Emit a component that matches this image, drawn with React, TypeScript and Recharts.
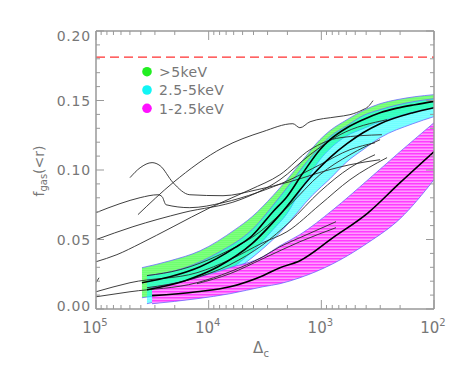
import React from 'react';
import { ComposedChart, Area, Line, XAxis, YAxis, Legend } from 'recharts';

// ---------- axis ticks ----------
const xTicks = [100, 200, 300, 400, 500, 600, 700, 800, 900, 1000, 2000, 3000, 4000, 5000, 6000, 7000, 8000, 9000, 10000, 20000, 30000, 40000, 50000, 60000, 70000, 80000, 90000, 100000];
const xMajor = [100000, 10000, 1000, 100];
const xExponents = ['5', '4', '3', '2'];
const yTicks = [0, 0.01, 0.02, 0.03, 0.04, 0.05, 0.06, 0.07, 0.08, 0.09, 0.1, 0.11, 0.12, 0.13, 0.14, 0.15, 0.16, 0.17, 0.18, 0.19, 0.2];
const yMajor = [0, 0.05, 0.1, 0.15, 0.2];
const yMajorLabels = ['0.00', '0.05', '0.10', '0.15', '0.20'];

// cosmic baryon fraction (dashed red line)
const baryonDelta = [100000, 100];
const baryonF = [0.1812, 0.1812];

// ---------- legend ----------
const legendLabels = ['>5keV', '2.5-5keV', '1-2.5keV'];
const legendColors = ['#22ee22', '#11f5f5', '#ff11ff'];

// ---------- bands (>5keV, 2.5-5keV, 1-2.5keV) ----------
const greenDelta = [39100, 22000, 11900, 5840, 4120, 2690, 2020, 1450, 1030, 838, 592, 427, 301, 213, 148, 100];
const greenHigh = [0.0297, 0.0347, 0.0419, 0.0571, 0.0664, 0.0815, 0.093, 0.1074, 0.1218, 0.1283, 0.1362, 0.1427, 0.1477, 0.1506, 0.1527, 0.1542];
const greenMid = [0.0189, 0.0232, 0.0304, 0.0441, 0.0527, 0.07, 0.0808, 0.0981, 0.1146, 0.1218, 0.1304, 0.1362, 0.1412, 0.1445, 0.147, 0.1494];
const greenLow = [0.0081, 0.0117, 0.0189, 0.0311, 0.0412, 0.0571, 0.0686, 0.0887, 0.1074, 0.1153, 0.1247, 0.1297, 0.1348, 0.1384, 0.142, 0.1448];

const cyanDelta = [35300, 16200, 8260, 4120, 2330, 1190, 838, 592, 427, 301, 154, 100];
const cyanHigh = [0.024, 0.0297, 0.0405, 0.0571, 0.0808, 0.111, 0.124, 0.1319, 0.1391, 0.1434, 0.1491, 0.1513];
const cyanMid = [0.0139, 0.0204, 0.0304, 0.047, 0.0679, 0.0966, 0.1089, 0.1189, 0.1268, 0.1333, 0.1412, 0.1448];
const cyanLow = [0.0038, 0.011, 0.0204, 0.0369, 0.0549, 0.0822, 0.0937, 0.106, 0.1146, 0.1232, 0.1333, 0.1384];

const magentaDelta = [31800, 12700, 6470, 3300, 2330, 1550, 788, 385, 200, 100];
const magentaHigh = [0.0153, 0.0225, 0.0297, 0.0376, 0.0455, 0.0535, 0.0714, 0.093, 0.1132, 0.134];
const magentaMid = [0.0096, 0.0124, 0.016, 0.024, 0.0297, 0.0347, 0.0513, 0.0692, 0.0909, 0.1132];
const magentaLow = [0.0038, 0.0074, 0.011, 0.016, 0.0182, 0.0225, 0.0326, 0.0477, 0.065, 0.093];

// ---------- individual cluster profiles ----------
const p1Delta = [100000, 61200, 40600, 28200, 25900, 23900, 14700, 7460, 3720, 1900, 1030, 557, 334];
const p1F = [0.0693, 0.0758, 0.0801, 0.0822, 0.0808, 0.075, 0.0729, 0.0765, 0.0837, 0.093, 0.1038, 0.1146, 0.1196];
const p2Delta = [49900, 40600, 31800, 27000, 20700, 14700, 7460, 3720, 1900, 838, 557, 301];
const p2F = [0.0945, 0.1016, 0.1053, 0.1031, 0.0909, 0.0822, 0.0815, 0.0858, 0.0916, 0.1003, 0.1038, 0.1074];
const p3Delta = [42400, 20700, 7460, 3300, 1790, 1550, 1260, 726, 557, 427, 385, 348];
const p3F = [0.0679, 0.0909, 0.1161, 0.1276, 0.1333, 0.1304, 0.1347, 0.1383, 0.1398, 0.1434, 0.1455, 0.1499];
const p4Delta = [100000, 47000, 16900, 5270, 2330, 1260, 683, 261];
const p4F = [0.0499, 0.0592, 0.0693, 0.0786, 0.093, 0.111, 0.1254, 0.1362];
const p5Delta = [100000, 65200, 40600, 20700, 9730, 4300, 2330, 1260, 683, 290];
const p5F = [0.034, 0.0391, 0.047, 0.0592, 0.0729, 0.0858, 0.0966, 0.1146, 0.1232, 0.1254];
const p6Delta = [100000, 49900, 12700, 6470, 3300, 2020, 1030, 557, 261];
const p6F = [0.0124, 0.0189, 0.0261, 0.0355, 0.0477, 0.0556, 0.075, 0.093, 0.1089];
const p7Delta = [100000, 49900, 12700, 6470, 3300, 2330, 1550, 1030, 741];
const p7F = [0.0088, 0.0124, 0.0189, 0.0268, 0.0376, 0.0448, 0.0513, 0.0577, 0.0628];
const p8Delta = [12700, 6470, 3300, 1550, 741];
const p8F = [0.0182, 0.0254, 0.0362, 0.0484, 0.0585];
const p9Delta = [35300, 17900, 7930, 3500, 1900, 1030, 557, 301];
const p9F = [0.024, 0.0283, 0.0391, 0.0556, 0.075, 0.0966, 0.111, 0.1218];
const p10Delta = [35300, 14700, 6470, 3300, 1900, 1030, 557, 334];
const p10F = [0.0153, 0.0211, 0.0319, 0.0463, 0.0628, 0.0844, 0.1016, 0.111];
const p11Delta = [100000, 94000];
const p11F = [0.0189, 0.0225];

const profiles = [
  [p1Delta, p1F], [p2Delta, p2F], [p3Delta, p3F], [p4Delta, p4F], [p5Delta, p5F], [p6Delta, p6F],
  [p7Delta, p7F], [p8Delta, p8F], [p9Delta, p9F], [p10Delta, p10F], [p11Delta, p11F],
];

const toPoints = (d: number[], f: number[]) => d.map((x, i) => ({ d: x, f: f[i] }));
const toRange = (d: number[], lo: number[], hi: number[]) => d.map((x, i) => ({ d: x, r: [lo[i], hi[i]] }));

const FONT = "'DejaVu Sans', sans-serif";
const TXT = '#777777';
const AX = '#999999';

const isMajorY = (v: number) => yMajor.findIndex((m) => Math.abs(m - v) < 1e-9);

const BottomTick = (props: any) => {
  const { x, y, payload } = props;
  const idx = xMajor.indexOf(payload.value);
  const len = idx >= 0 ? 9 : 4;
  return (
    <g>
      <line x1={x} y1={y} x2={x} y2={y - len} stroke={AX} strokeWidth={1} />
      {idx >= 0 && (
        <text x={x - 1} y={y + 24} textAnchor="middle" fill={TXT} fontSize={15} fontFamily={FONT}>
          10<tspan dy={-7} fontSize={10}>{xExponents[idx]}</tspan>
        </text>
      )}
    </g>
  );
};

const TopTick = (props: any) => {
  const { x, y, payload } = props;
  const len = xMajor.indexOf(payload.value) >= 0 ? 9 : 4;
  return <line x1={x} y1={y} x2={x} y2={y + len} stroke={AX} strokeWidth={1} />;
};

const LeftTick = (props: any) => {
  const { x, y, payload } = props;
  const v = payload.value;
  const idx = isMajorY(v);
  const len = idx >= 0 ? 8 : 4;
  const dy = Math.abs(v - 0.2) < 1e-9 ? 10 : Math.abs(v) < 1e-9 ? 2 : 5;
  return (
    <g>
      <line x1={x} y1={y} x2={x + len} y2={y} stroke={AX} strokeWidth={1} />
      {idx >= 0 && (
        <text x={x - 5} y={y + dy} textAnchor="end" fill={TXT} fontSize={14} fontFamily={FONT} letterSpacing={0.8}>
          {yMajorLabels[idx]}
        </text>
      )}
    </g>
  );
};

const RightTick = (props: any) => {
  const { x, y, payload } = props;
  const len = isMajorY(payload.value) >= 0 ? 8 : 4;
  return <line x1={x} y1={y} x2={x - len} y2={y} stroke={AX} strokeWidth={1} />;
};

const XLabel = (props: any) => {
  const vb = props.viewBox;
  return (
    <text x={vb.x + vb.width / 2 - 4} y={vb.y + 44} textAnchor="middle" fill={TXT} fontSize={15} fontFamily={FONT}>
      Δ<tspan dy={4} fontSize={10}>c</tspan>
    </text>
  );
};

const YLabel = () => (
  <text x={44} y={171} transform="rotate(-90, 44, 171)" textAnchor="middle" fill={TXT} fontSize={14} fontFamily={FONT}>
    f<tspan dy={3} fontSize={10}>gas</tspan><tspan dy={-3}>(&lt;r)</tspan>
  </text>
);

const LegendBox = () => (
  <svg width={130} height={62} style={{ display: 'block' }}>
    {legendLabels.map((lab, i) => (
      <g key={lab}>
        <circle cx={10} cy={11.7 + i * 18.3} r={4.8} fill={legendColors[i]} />
        <text x={22} y={17 + i * 18.3} fill={TXT} fontSize={14} fontFamily={FONT} letterSpacing={0.4}>
          {lab}
        </text>
      </g>
    ))}
  </svg>
);

export default function App() {
  const bandStroke = '#6b6bff';
  return (
    <div style={{ position: 'absolute', left: 0, top: 0, width: 463, height: 371, background: '#fff' }}>
      <ComposedChart width={463} height={371} margin={{ top: 0, right: 0, bottom: 0, left: 0 }}>
        <defs>
          <pattern id="hatchGreen" patternUnits="userSpaceOnUse" width={4} height={2}>
            <rect x={0} y={0} width={4} height={2} fill="#00ff00" fillOpacity={0.5} />
            <rect x={0} y={0} width={4} height={1} fill="#00ff00" fillOpacity={0.12} />
          </pattern>
          <pattern id="hatchCyan" patternUnits="userSpaceOnUse" width={4} height={2}>
            <rect x={0} y={0} width={4} height={2} fill="#00ffff" fillOpacity={0.5} />
            <rect x={0} y={1} width={4} height={1} fill="#00ffff" fillOpacity={0.12} />
          </pattern>
          <pattern id="hatchMagenta" patternUnits="userSpaceOnUse" width={4} height={3}>
            <rect x={0} y={0} width={4} height={3} fill="#ff9cff" />
            <rect x={0} y={0} width={4} height={1.5} fill="#ff3cff" />
          </pattern>
        </defs>
        <XAxis
          dataKey="d"
          type="number"
          scale="log"
          domain={[100, 100000]}
          allowDataOverflow
          reversed
          ticks={xTicks}
          interval={0}
          tick={<BottomTick />}
          tickLine={false}
          tickSize={0}
          tickMargin={0}
          height={62}
          axisLine={{ stroke: AX, strokeWidth: 1.5 }}
          label={<XLabel />}
        />
        <XAxis
          xAxisId="top"
          orientation="top"
          dataKey="d"
          type="number"
          scale="log"
          domain={[100, 100000]}
          allowDataOverflow
          reversed
          ticks={xTicks}
          interval={0}
          tick={<TopTick />}
          tickLine={false}
          tickSize={0}
          tickMargin={0}
          height={31}
          axisLine={{ stroke: AX, strokeWidth: 1.5 }}
        />
        <YAxis
          type="number"
          domain={[0, 0.2]}
          allowDataOverflow
          ticks={yTicks}
          interval={0}
          tick={<LeftTick />}
          tickLine={false}
          tickSize={0}
          tickMargin={0}
          width={96}
          axisLine={{ stroke: AX, strokeWidth: 1.5 }}
          label={<YLabel />}
        />
        <YAxis
          yAxisId="right"
          orientation="right"
          type="number"
          domain={[0, 0.2]}
          allowDataOverflow
          ticks={yTicks}
          interval={0}
          tick={<RightTick />}
          tickLine={false}
          tickSize={0}
          tickMargin={0}
          width={29}
          axisLine={{ stroke: AX, strokeWidth: 1.5 }}
        />
        <Area
          data={toRange(greenDelta, greenLow, greenHigh)}
          dataKey="r"
          type="monotone"
          fill="url(#hatchGreen)"
          fillOpacity={1}
          stroke={bandStroke}
          strokeWidth={0.8}
          isAnimationActive={false}
          dot={false}
          activeDot={false}
        />
        <Area
          data={toRange(cyanDelta, cyanLow, cyanHigh)}
          dataKey="r"
          type="monotone"
          fill="url(#hatchCyan)"
          fillOpacity={1}
          stroke={bandStroke}
          strokeWidth={0.8}
          isAnimationActive={false}
          dot={false}
          activeDot={false}
        />
        <Area
          data={toRange(magentaDelta, magentaLow, magentaHigh)}
          dataKey="r"
          type="monotone"
          fill="url(#hatchMagenta)"
          fillOpacity={1}
          stroke={bandStroke}
          strokeWidth={0.8}
          isAnimationActive={false}
          dot={false}
          activeDot={false}
        />
        {profiles.map(([d, f], i) => (
          <Line
            key={'p' + i}
            data={toPoints(d, f)}
            dataKey="f"
            type="monotone"
            stroke="#2a2a2a"
            strokeWidth={0.9}
            dot={false}
            activeDot={false}
            isAnimationActive={false}
          />
        ))}
        <Line data={toPoints(greenDelta, greenMid)} dataKey="f" type="monotone" stroke="#000" strokeWidth={1.6} dot={false} activeDot={false} isAnimationActive={false} />
        <Line data={toPoints(cyanDelta, cyanMid)} dataKey="f" type="monotone" stroke="#000" strokeWidth={1.6} dot={false} activeDot={false} isAnimationActive={false} />
        <Line data={toPoints(magentaDelta, magentaMid)} dataKey="f" type="monotone" stroke="#000" strokeWidth={1.6} dot={false} activeDot={false} isAnimationActive={false} />
        <Line
          data={toPoints(baryonDelta, baryonF)}
          dataKey="f"
          type="linear"
          stroke="#ff3030"
          strokeWidth={1.4}
          strokeDasharray="9 5"
          dot={false}
          activeDot={false}
          isAnimationActive={false}
        />
        <Legend
          layout="horizontal"
          verticalAlign="middle"
          align="center"
          wrapperStyle={{ left: 137, top: 60, width: 130, height: 62 }}
          content={() => <LegendBox />}
        />
      </ComposedChart>
    </div>
  );
}
